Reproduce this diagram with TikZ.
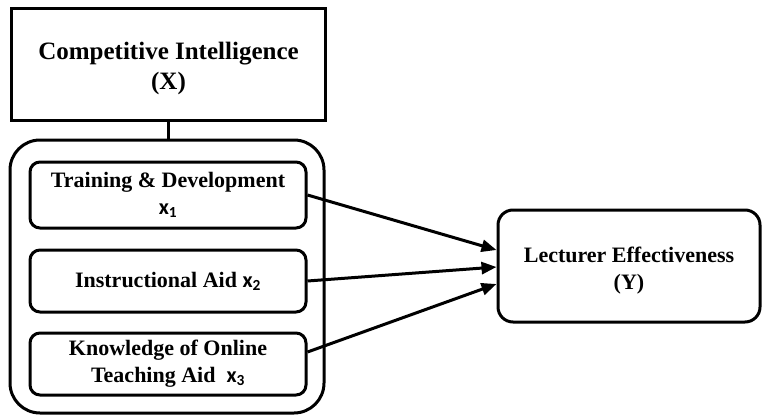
\documentclass[tikz,border=0pt]{standalone}
\usepackage{fontspec}
\setmainfont{Liberation Serif}
\newfontfamily\subfont{Carlito}
\usetikzlibrary{arrows.meta,calc}
\newcommand{\xs}[1]{{\subfont\bfseries x\textsubscript{#1}}}
\begin{document}
\begin{tikzpicture}[x=1pt,y=-1pt,
  box/.style={draw,line width=3pt,inner sep=0pt,align=center,font=\bfseries\fontsize{22}{27}\selectfont},
  conn/.style={line width=3pt,-{Triangle[length=15pt,width=12pt]}}]
\useasboundingbox (0,0) rectangle (762,417);
\node[box,minimum width=314pt,minimum height=111pt,font=\bfseries\fontsize{25}{30}\selectfont] (X) at (168.5,64.5) {\rule{0pt}{26pt}Competitive Intelligence\\(X)};
\node[box,rounded corners=30pt,minimum width=314pt,minimum height=273pt] (G) at (167,276.5) {};
\node[box,rounded corners=10pt,minimum width=276pt,minimum height=66pt] (b1) at (168,195) {Training \& Development\\\xs{1}};
\node[box,rounded corners=10pt,minimum width=276pt,minimum height=62pt] (b2) at (168,281) {Instructional Aid \xs{2}};
\node[box,rounded corners=10pt,minimum width=276pt,minimum height=62pt] (b3) at (168,364) {Knowledge of Online\\Teaching Aid\ \ \xs{3}};
\node[box,rounded corners=15pt,minimum width=262pt,minimum height=112pt] (Y) at (629,266) {\rule{0pt}{24pt}Lecturer Effectiveness\\(Y)};
\draw[line width=3pt] (X.south) -- (X.south |- G.north);
\draw[conn] (b1.east) -- ($(Y.west)+(0,-16)$);
\draw[conn] (b2.east) -- ($(Y.west)+(0,1)$);
\draw[conn] ($(b3.east)+(0,-12)$) -- ($(Y.west)+(0,18)$);
\end{tikzpicture}
\end{document}
